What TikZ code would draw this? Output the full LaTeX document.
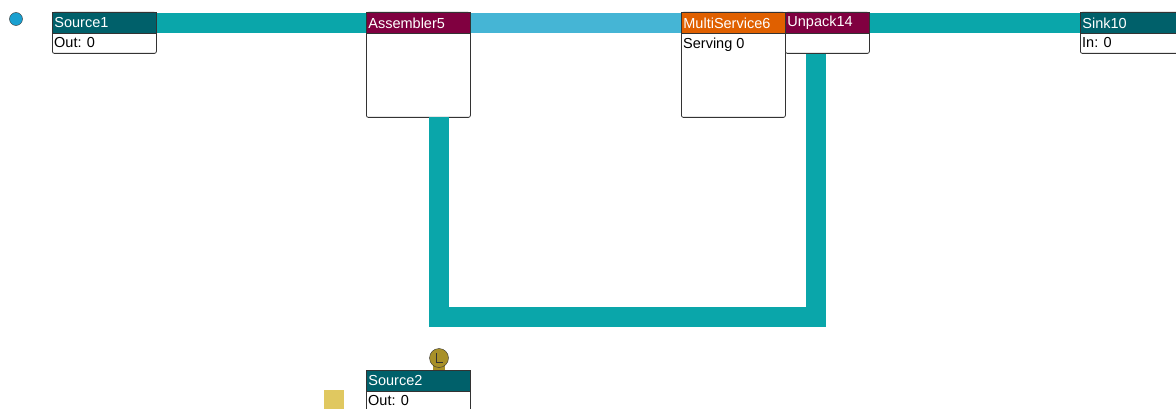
\documentclass[tikz,border=0pt]{standalone}
\usepackage{fontspec}
\setmainfont{Liberation Sans}
\usepackage{xcolor}
\usetikzlibrary{positioning, calc}

\definecolor{bandteal}{HTML}{0AA6AA}
\definecolor{bandblue}{HTML}{45B5D5}
\definecolor{hdteal}{HTML}{00606A}
\definecolor{hdmaroon}{HTML}{800040}
\definecolor{hdorange}{HTML}{E06000}
\definecolor{gold}{HTML}{A89028}
\definecolor{beige}{HTML}{E0C860}
\definecolor{dotblue}{HTML}{1AA0D0}

\begin{document}
\begin{tikzpicture}[
        x=1pt, y=-1pt,
        font=\fontsize{14.5}{15}\selectfont,
        box/.style={rectangle, draw=black!80, line width=0.8pt, fill=white, rounded corners=2pt, anchor=north west, inner sep=0pt},
        head/.style={rectangle, draw=black!80, line width=0.8pt, anchor=north west, minimum height=21pt, inner xsep=2pt, inner ysep=0pt, text=white, align=left},
        info/.style={anchor=north west, inner xsep=2pt, inner ysep=3.5pt},
        band/.style={draw=bandteal, line width=20pt},
        lband/.style={draw=bandblue, line width=20pt}
    ]
        \clip (0,0) rectangle (1176,409);

        % ================= BLOQUES =================
        \node[box, minimum width=104pt, minimum height=41pt] (src1) at (52,12) {};
        \node[box, minimum width=104pt, minimum height=105pt] (asm) at (366,12) {};
        \node[box, minimum width=104pt, minimum height=105pt] (ms) at (681,12) {};
        \node[box, minimum width=84pt, minimum height=41pt] (unp) at (785,12) {};
        \node[box, minimum width=110pt, minimum height=41pt] (snk) at (1080,12) {};
        \node[box, minimum width=104pt, minimum height=45pt] (src2) at (366,370) {};

        % Conexiones
        \coordinate (asmout) at (439,117);
        \coordinate (loop) at (816,317);
        \draw[band] (src1.east |- 156,23) -- (asm.west |- 366,23);
        \draw[lband] (asm.east |- 470,23) -- (ms.west |- 681,23);
        \draw[band] (unp.east |- 869,23) -- (snk.west |- 1080,23);
        \draw[band] (asmout) |- (loop) -- (loop |- unp.south);

        % Cabeceras
        \node[head, fill=hdteal, text width=100pt] (src1h) at (src1.north west) {Source1};
        \node[head, fill=hdmaroon, text width=100pt] (asmh) at (asm.north west) {Assembler5};
        \node[head, fill=hdorange, text width=100pt] (msh) at (ms.north west) {MultiService6};
        \node[head, fill=hdmaroon, text width=80pt] (unph) at (unp.north west) {Unpack14};
        \node[head, fill=hdteal, text width=106pt] (snkh) at (snk.north west) {Sink10};
        \node[head, fill=hdteal, text width=100pt] (src2h) at (src2.north west) {Source2};

        % Contenido
        \node[info] at (src1h.south west) {Out: 0};
        \node[info] at (msh.south west) {Serving 0};
        \node[info] at (snkh.south west) {In: 0};
        \node[info] at (src2h.south west) {Out: 0};

        % Iconos
        \node[circle, draw=black!80, fill=dotblue, minimum size=13pt, inner sep=0pt] (dot) at (16,19) {};
        \node[rectangle, fill=beige, minimum size=20pt, inner sep=0pt] (sq) at (334,400) {};
        \node[rectangle, fill=gold, minimum width=12pt, minimum height=5pt, inner sep=0pt] (clkbase) at (439,367) {};
        \node[circle, draw=black!80, fill=gold, minimum size=19pt, inner sep=0pt] (clk) at (439,358) {};
        \draw[black!80, line width=0.8pt] (clk.center) ++(-3,-5) -- ++(0,9) -- ++(7,0);
    \end{tikzpicture}
\end{document}
